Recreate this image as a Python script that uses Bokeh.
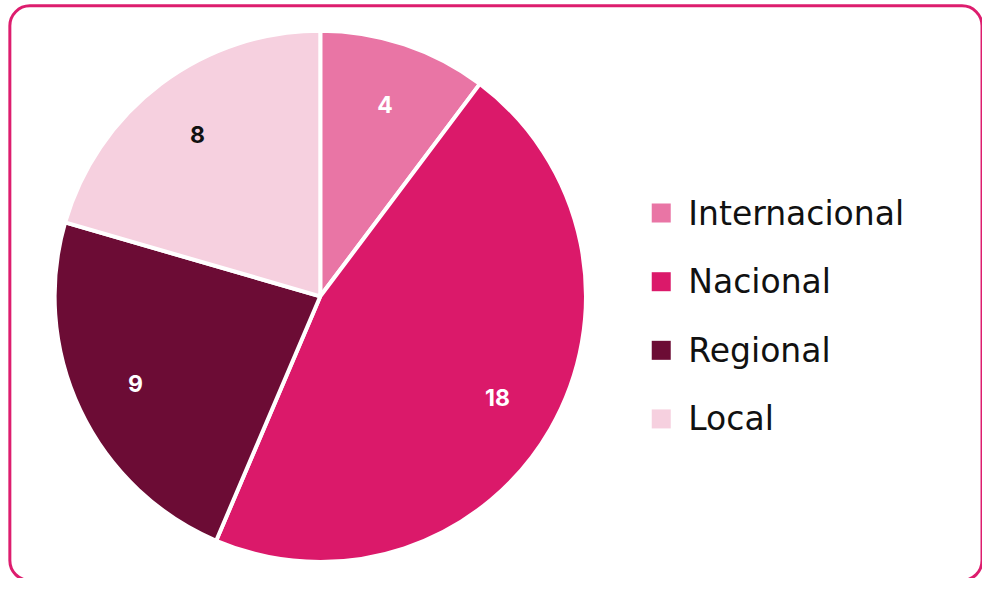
import numpy as np
from bokeh.plotting import figure
from bokeh.models import ColumnDataSource, Range1d, BoxAnnotation
from bokeh.core.properties import value
from bokeh.embed import file_html
from bokeh.resources import INLINE

# ---- data ----
categories = ["Internacional", "Nacional", "Regional", "Local"]
counts = [4, 18, 9, 8]
colors = ["#E975A5", "#DB196A", "#6C0C35", "#F6D0DF"]
label_colors = ["#FFFFFF", "#FFFFFF", "#FFFFFF", "#111111"]

# ---- layout (reference-image pixel coordinates) ----
REF_W, REF_H = 998, 594
W, H = 982, 578
CX, CY, R = 325.0, 304.0, 270.0
LABEL_R = 0.77
LEG_X_BOX, LEG_X_TEXT = 671.5, 699.0
LEG_TOP, LEG_STEP = 218.5, 70.5

p = figure(width=W, height=H,
           x_range=Range1d(0, REF_W), y_range=Range1d(0, REF_H),
           output_backend="svg", toolbar_location=None, min_border=0)
p.axis.visible = False
p.grid.visible = False
p.outline_line_color = None
p.background_fill_color = "white"
p.border_fill_color = "white"

# rounded frame
frame = BoxAnnotation(left=9.5, right=997.5, top=REF_H - 5.5, bottom=REF_H - 596,
                      fill_color=None, line_color="#DD1D6E", line_alpha=1.0, line_width=3,
                      border_radius=20, level="underlay")
p.add_layout(frame)

# wedges
vals = np.array(counts, dtype=float)
frac = vals / vals.sum()
cum = np.concatenate([[0.0], np.cumsum(frac)])
start = np.pi / 2 - 2 * np.pi * cum[:-1]
end = np.pi / 2 - 2 * np.pi * cum[1:]
mid = (start + end) / 2
cy_data = REF_H - CY

src = ColumnDataSource(dict(
    cat=categories, val=counts, color=colors, start=start, end=end,
    lx=CX + LABEL_R * R * np.cos(mid), ly=cy_data + LABEL_R * R * np.sin(mid),
    txt=[str(c) for c in counts], tcol=label_colors,
))
p.wedge(x=CX, y=cy_data, radius=R, start_angle="start", end_angle="end",
        direction="clock", fill_color="color", line_color="white", line_width=4, source=src)
p.text(x="lx", y="ly", text="txt", text_color="tcol", text_align="center",
       text_baseline="middle", text_font=value("Inter"), text_font_style="bold",
       text_font_size="23px", source=src)

# legend (drawn manually)
leg_y = [REF_H - (LEG_TOP + i * LEG_STEP) for i in range(len(categories))]
leg = ColumnDataSource(dict(cat=categories, color=colors, y=leg_y,
                            bx=[LEG_X_BOX] * len(categories), tx=[LEG_X_TEXT] * len(categories)))
p.scatter(x="bx", y="y", marker="square", size=19, fill_color="color", line_color=None, source=leg)
p.text(x="tx", y="y", text="cat", text_color="#111111", text_align="left", text_baseline="middle",
       text_font=value("DejaVu Sans"), text_font_size="33px", source=leg)

open("out.html", "w").write(file_html(p, INLINE))
